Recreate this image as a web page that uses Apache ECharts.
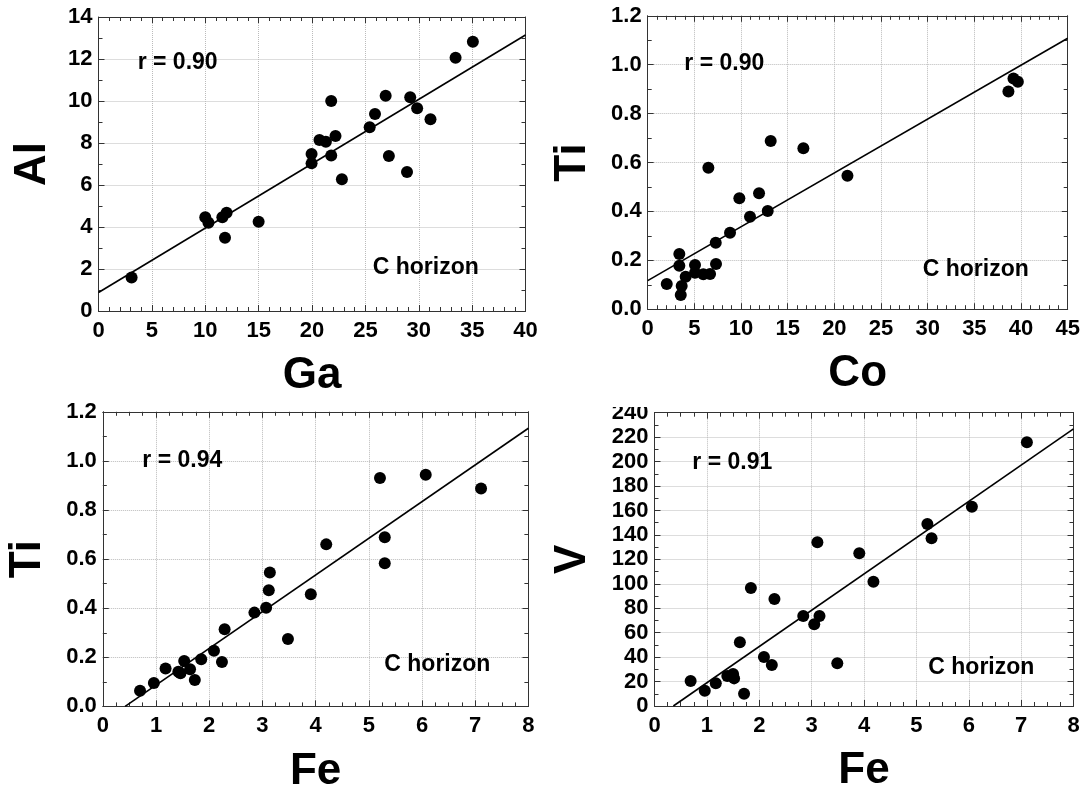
<!DOCTYPE html>
<html>
<head>
<meta charset="utf-8">
<title>C horizon correlations</title>
<script src="https://cdn.jsdelivr.net/npm/echarts@6/dist/echarts.min.js"></script>
<style>
  html, body { margin: 0; padding: 0; background: #fff; }
  #chart { width: 1088px; height: 797px; }
</style>
</head>
<body>
<div id="chart"></div>
<script>
// values
const gaX = [3.1, 10.0, 10.3, 11.6, 12.0, 11.85, 15.0, 19.96, 19.96, 20.7, 21.3, 21.8, 22.2, 21.8, 22.8, 25.4, 25.9, 26.9, 27.2, 28.9, 29.2, 29.85, 31.1, 33.45, 35.07];
const alY = [1.59, 4.46, 4.2, 4.46, 4.68, 3.49, 4.25, 7.48, 7.03, 8.14, 8.06, 10.0, 8.33, 7.40, 6.27, 8.75, 9.38, 10.25, 7.38, 6.62, 10.18, 9.65, 9.13, 12.06, 12.82];
const alFit = [[0, 0.88], [40, 13.14]];

const coX = [2.04, 3.39, 3.39, 3.64, 3.54, 4.07, 5.07, 5.07, 5.96, 6.68, 7.32, 7.29, 6.5, 8.82, 9.82, 10.96, 11.93, 12.86, 13.18, 16.68, 21.4, 39.19, 39.66, 38.65];
const tiCoY = [0.103, 0.226, 0.178, 0.095, 0.058, 0.133, 0.181, 0.149, 0.143, 0.144, 0.185, 0.272, 0.579, 0.313, 0.454, 0.378, 0.474, 0.402, 0.688, 0.658, 0.546, 0.944, 0.930, 0.890];
const tiCoFit = [[0, 0.117], [45, 1.108]];

const feTiX = [0.70, 0.96, 1.18, 1.42, 1.46, 1.53, 1.64, 1.73, 1.85, 2.09, 2.24, 2.29, 2.85, 3.07, 3.12, 3.14, 3.48, 3.91, 4.20, 5.21, 5.30, 5.30, 6.07, 7.11];
const tiFeY = [0.064, 0.095, 0.154, 0.141, 0.135, 0.185, 0.151, 0.108, 0.192, 0.227, 0.181, 0.314, 0.382, 0.402, 0.473, 0.545, 0.275, 0.457, 0.660, 0.930, 0.689, 0.583, 0.944, 0.888];
const tiFeFit = [[0.42, 0], [8, 1.133]];

const feVX = [0.69, 0.96, 1.17, 1.39, 1.50, 1.52, 1.63, 1.71, 1.84, 2.09, 2.24, 2.29, 2.84, 3.05, 3.15, 3.11, 3.49, 3.91, 4.18, 5.21, 5.29, 6.06, 7.11];
const vY = [20.5, 12.5, 18.6, 24.5, 26.2, 22.6, 52.1, 10.1, 96.6, 40.1, 33.5, 87.6, 73.6, 66.8, 73.6, 134, 34.9, 125, 101.7, 148.9, 137.2, 163.1, 215.8];
const vFit = [[0.36, 0], [8, 226.7]];

const rLabels = ["r = 0.90", "r = 0.90", "r = 0.94", "r = 0.91"];
const horizonLabel = "C horizon";

const FONT = '"Liberation Sans", Arial, Helvetica, sans-serif';

const panels = [
  { grid: { left: 98.5, top: 17, width: 427, height: 294 },
    x: { name: "Ga", min: 0, max: 40, interval: 5, minor: 5, fmt: v => v },
    y: { name: "Al", min: 0, max: 14, interval: 2, minor: 2, gap: 44, fmt: v => v },
    xs: gaX, ys: alY, fit: alFit,
    rPos: [137.7, 63], cPos: [372.7, 268] },
  { grid: { left: 647.7, top: 15.8, width: 420, height: 293.4 },
    x: { name: "Co", min: 0, max: 45, interval: 5, minor: 5, fmt: v => v },
    y: { name: "Ti", min: 0, max: 1.2, interval: 0.2, minor: 2, gap: 53, fmt: v => v.toFixed(1) },
    xs: coX, ys: tiCoY, fit: tiCoFit,
    rPos: [684.3, 63.8], cPos: [922.7, 270] },
  { grid: { left: 102.8, top: 411.8, width: 425.6, height: 294.6 },
    x: { name: "Fe", min: 0, max: 8, interval: 1, minor: 4, fmt: v => v },
    y: { name: "Ti", min: 0, max: 1.2, interval: 0.2, minor: 2, gap: 53, fmt: v => v.toFixed(1) },
    xs: feTiX, ys: tiFeY, fit: tiFeFit,
    rPos: [142.3, 460.7], cPos: [384.3, 665] },
  { grid: { left: 654.5, top: 412.7, width: 419, height: 293.3 },
    x: { name: "Fe", min: 0, max: 8, interval: 1, minor: 4, fmt: v => v },
    y: { name: "V", min: 0, max: 240, interval: 20, minor: 2, gap: 60, fmt: v => v },
    xs: feVX, ys: vY, fit: vFit,
    rPos: [692.3, 462.5], cPos: [928.3, 668] }
];

const frameLine = { show: true, onZero: false, lineStyle: { color: "#333", width: 1 } };
const tickIn = { show: true, inside: true, length: 6, lineStyle: { color: "#333" } };
const minorIn = n => ({ show: true, splitNumber: n, length: 4, lineStyle: { color: "#333" } });
const gridLine = { show: true, lineStyle: { color: "#bbb", width: 1, type: "dotted" } };

const grids = [], xAxes = [], yAxes = [], series = [], texts = [];

panels.forEach((p, i) => {
  grids.push(Object.assign({ containLabel: false }, p.grid));
  const xBase = { type: "value", gridIndex: i, min: p.x.min, max: p.x.max, interval: p.x.interval,
    axisLine: frameLine, axisTick: tickIn, minorTick: minorIn(p.x.minor) };
  const yBase = { type: "value", gridIndex: i, min: p.y.min, max: p.y.max, interval: p.y.interval,
    axisLine: frameLine, axisTick: tickIn, minorTick: minorIn(p.y.minor) };

  xAxes[i] = Object.assign({}, xBase, {
    position: "bottom",
    name: p.x.name, nameLocation: "middle", nameGap: 43,
    nameTextStyle: { fontFamily: FONT, fontWeight: "bold", fontSize: 44, color: "#000" },
    axisLabel: { margin: 9, fontFamily: FONT, fontWeight: "bold", fontSize: 22, color: "#000", formatter: p.x.fmt },
    splitLine: gridLine
  });
  xAxes[i + 4] = Object.assign({}, xBase, {
    position: "top", axisLabel: { show: false }, splitLine: { show: false }
  });
  yAxes[i] = Object.assign({}, yBase, {
    position: "left",
    name: p.y.name, nameLocation: "middle", nameGap: p.y.gap, nameRotate: 90,
    nameTextStyle: { fontFamily: FONT, fontWeight: "bold", fontSize: 44, color: "#000" },
    axisLabel: { margin: 6, fontFamily: FONT, fontWeight: "bold", fontSize: 22, color: "#000", formatter: p.y.fmt },
    splitLine: gridLine
  });
  yAxes[i + 4] = Object.assign({}, yBase, {
    position: "right", axisLabel: { show: false }, splitLine: { show: false }
  });

  series.push({
    type: "line", xAxisIndex: i, yAxisIndex: i, data: p.fit,
    symbol: "none", silent: true, z: 3,
    lineStyle: { color: "#000", width: 1.6 }
  });
  series.push({
    type: "scatter", xAxisIndex: i, yAxisIndex: i,
    data: p.xs.map((x, k) => [x, p.ys[k]]),
    symbol: "circle", symbolSize: 12, z: 4,
    itemStyle: { color: "#000", opacity: 1 }
  });

  texts.push({ type: "text", x: p.rPos[0], y: p.rPos[1], z: 10,
    style: { text: rLabels[i], font: "bold 23px " + FONT, fill: "#000", verticalAlign: "middle" } });
  texts.push({ type: "text", x: p.cPos[0], y: p.cPos[1], z: 10,
    style: { text: horizonLabel, font: "bold 23px " + FONT, fill: "#000", verticalAlign: "middle" } });
});

// the top of the "240" label is cut off in the original
texts.push({ type: "rect", shape: { x: 600, y: 394, width: 50, height: 13 }, z: 20,
  style: { fill: "#fff" } });

const chart = echarts.init(document.getElementById("chart"), null, { renderer: "canvas" });
chart.setOption({
  animation: false,
  backgroundColor: "#fff",
  grid: grids,
  xAxis: xAxes,
  yAxis: yAxes,
  series: series,
  graphic: texts
});
</script>
</body>
</html>
